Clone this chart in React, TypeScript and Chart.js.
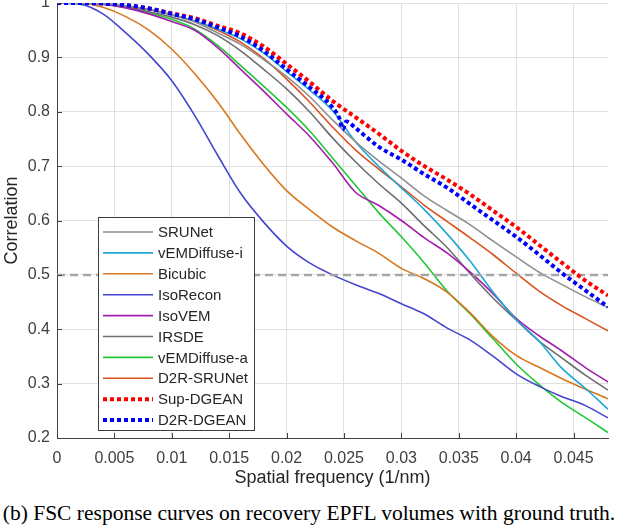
import React, { useEffect, useRef } from 'react';
import { Chart, registerables } from 'chart.js';

Chart.register(...registerables);

// ---------- data ----------
const freq = [0, 0.002, 0.004, 0.006, 0.008, 0.010, 0.012, 0.014, 0.016, 0.018, 0.020, 0.022, 0.024,
  0.026, 0.028, 0.030, 0.032, 0.034, 0.036, 0.038, 0.040, 0.042, 0.044, 0.046, 0.048];

const srunet = [1, 1, 0.999, 0.995, 0.988, 0.978, 0.965, 0.945, 0.924, 0.896, 0.865, 0.828, 0.785,
  0.745, 0.710, 0.678, 0.645, 0.618, 0.592, 0.562, 0.533, 0.505, 0.482, 0.460, 0.440];
const vemDiffuseI = [1, 1, 0.999, 0.995, 0.988, 0.978, 0.967, 0.952, 0.934, 0.908, 0.874, 0.840, 0.802,
  0.745, 0.700, 0.660, 0.620, 0.575, 0.525, 0.468, 0.418, 0.378, 0.328, 0.292, 0.253];
const bicubic = [1, 1, 0.992, 0.975, 0.950, 0.915, 0.870, 0.818, 0.758, 0.703, 0.655, 0.620, 0.588,
  0.563, 0.540, 0.512, 0.493, 0.468, 0.430, 0.386, 0.352, 0.330, 0.309, 0.290, 0.272];
const isoRecon = [1, 0.998, 0.980, 0.945, 0.905, 0.857, 0.793, 0.720, 0.650, 0.597, 0.553, 0.522, 0.500,
  0.482, 0.466, 0.447, 0.428, 0.402, 0.380, 0.350, 0.318, 0.295, 0.276, 0.260, 0.237];
const isoVEM = [1, 1, 0.998, 0.991, 0.980, 0.966, 0.950, 0.918, 0.878, 0.838, 0.796, 0.755, 0.706,
  0.652, 0.628, 0.600, 0.568, 0.540, 0.505, 0.465, 0.420, 0.388, 0.360, 0.330, 0.303];
const irsde = [1, 1, 0.998, 0.993, 0.984, 0.974, 0.960, 0.940, 0.912, 0.878, 0.842, 0.800, 0.752,
  0.708, 0.668, 0.632, 0.590, 0.550, 0.502, 0.457, 0.417, 0.378, 0.347, 0.316, 0.288];
const vemDiffuseA = [1, 1, 0.998, 0.992, 0.982, 0.970, 0.952, 0.922, 0.885, 0.847, 0.808, 0.765, 0.715,
  0.665, 0.615, 0.570, 0.522, 0.470, 0.428, 0.382, 0.336, 0.298, 0.265, 0.238, 0.210];
const d2rSrunet = [1, 1, 0.999, 0.995, 0.988, 0.979, 0.967, 0.950, 0.928, 0.898, 0.860, 0.818, 0.772,
  0.730, 0.695, 0.662, 0.628, 0.598, 0.568, 0.537, 0.503, 0.470, 0.443, 0.420, 0.397];
const supDgean = [1, 1, 0.999, 0.996, 0.990, 0.981, 0.972, 0.958, 0.944, 0.920, 0.888, 0.855, 0.820,
  0.790, 0.760, 0.728, 0.700, 0.675, 0.648, 0.618, 0.588, 0.555, 0.522, 0.490, 0.462];

const d2rDgeanFreq = [0, 0.002, 0.004, 0.006, 0.008, 0.010, 0.012, 0.014, 0.016, 0.018, 0.020, 0.022, 0.024,
  0.0246, 0.0249, 0.0252, 0.026, 0.028, 0.030, 0.032, 0.034, 0.036, 0.038, 0.040, 0.042, 0.044, 0.046, 0.048];
const d2rDgean = [1, 1, 0.999, 0.996, 0.990, 0.980, 0.970, 0.955, 0.938, 0.912, 0.878, 0.845, 0.808,
  0.788, 0.768, 0.782, 0.770, 0.736, 0.712, 0.685, 0.660, 0.630, 0.600, 0.570, 0.537, 0.503, 0.472, 0.441];

const thresholdLevel = 0.5;
const xMin = 0;
const xMax = 0.048;
const yMin = 0.2;
const yMax = 1;

const xTickValues = [0, 0.005, 0.01, 0.015, 0.02, 0.025, 0.03, 0.035, 0.04, 0.045];
const xTickLabels = ['0', '0.005', '0.01', '0.015', '0.02', '0.025', '0.03', '0.035', '0.04', '0.045'];
const yTickValues = [0.2, 0.3, 0.4, 0.5, 0.6, 0.7, 0.8, 0.9, 1];
const yTickLabels = ['0.2', '0.3', '0.4', '0.5', '0.6', '0.7', '0.8', '0.9', '1'];

const SANS = '"Liberation Sans", Arial, Helvetica, sans-serif';

const toPoints = (xs: number[], ys: number[]) => ys.map((y, i) => ({ x: xs[i], y }));

type Series = { label: string; xs: number[]; ys: number[]; color: string; width: number; dash?: number[]; order: number };

const series: Series[] = [
  { label: 'SRUNet', xs: freq, ys: srunet, color: '#8f8f8f', width: 1.6, order: 3 },
  { label: 'vEMDiffuse-i', xs: freq, ys: vemDiffuseI, color: '#1fa6d6', width: 1.6, order: 3 },
  { label: 'Bicubic', xs: freq, ys: bicubic, color: '#d8781e', width: 1.6, order: 3 },
  { label: 'IsoRecon', xs: freq, ys: isoRecon, color: '#4545cf', width: 1.6, order: 3 },
  { label: 'IsoVEM', xs: freq, ys: isoVEM, color: '#a21fae', width: 1.6, order: 3 },
  { label: 'IRSDE', xs: freq, ys: irsde, color: '#6e6e6e', width: 1.6, order: 3 },
  { label: 'vEMDiffuse-a', xs: freq, ys: vemDiffuseA, color: '#22c737', width: 1.6, order: 3 },
  { label: 'D2R-SRUNet', xs: freq, ys: d2rSrunet, color: '#d9531f', width: 1.6, order: 3 },
  { label: 'Sup-DGEAN', xs: freq, ys: supDgean, color: '#ff0000', width: 4, dash: [4, 3], order: 1 },
  { label: 'D2R-DGEAN', xs: d2rDgeanFreq, ys: d2rDgean, color: '#0000ff', width: 4, dash: [4, 3], order: 0 },
];

const insideTicksPlugin = {
  id: 'insideTicks',
  afterDraw(chart: any) {
    const { ctx, chartArea, scales } = chart;
    ctx.save();
    ctx.strokeStyle = '#404040';
    ctx.lineWidth = 1;
    ctx.beginPath();
    xTickValues.forEach((v) => {
      const px = Math.round(scales.x.getPixelForValue(v)) + 0.5;
      ctx.moveTo(px, chartArea.bottom);
      ctx.lineTo(px, chartArea.bottom - 5);
    });
    yTickValues.forEach((v) => {
      const py = Math.round(scales.y.getPixelForValue(v)) + 0.5;
      ctx.moveTo(chartArea.left, py);
      ctx.lineTo(chartArea.left + 5, py);
    });
    ctx.stroke();
    ctx.restore();
  },
};

const boxLegendPlugin = {
  id: 'boxLegend',
  afterDraw(chart: any) {
    const { ctx, chartArea } = chart;
    const left = chartArea.left + 41;
    const top = chartArea.top + 214;
    const w = 156;
    const h = 213;
    ctx.save();
    ctx.fillStyle = '#ffffff';
    ctx.fillRect(left, top, w, h);
    ctx.strokeStyle = '#3c3c3c';
    ctx.lineWidth = 1;
    ctx.strokeRect(left + 0.5, top + 0.5, w, h);
    const items = chart.data.datasets.filter((d: any) => d.label);
    items.forEach((d: any, i: number) => {
      const y = top + 15 + i * 20.9;
      ctx.beginPath();
      ctx.setLineDash(d.borderDash || []);
      ctx.strokeStyle = d.borderColor;
      ctx.lineWidth = d.borderWidth;
      ctx.moveTo(left + 5, y);
      ctx.lineTo(left + 55, y);
      ctx.stroke();
      ctx.setLineDash([]);
      ctx.fillStyle = '#262626';
      ctx.font = '15px ' + SANS;
      ctx.textAlign = 'left';
      ctx.textBaseline = 'middle';
      ctx.fillText(d.label, left + 60, y + 1);
    });
    ctx.restore();
  },
};

export default function App() {
  const ref = useRef<HTMLCanvasElement>(null);

  useEffect(() => {
    const datasets: any[] = series.map((s) => ({
      label: s.label,
      data: toPoints(s.xs, s.ys),
      borderColor: s.color,
      backgroundColor: s.color,
      borderWidth: s.width,
      borderDash: s.dash || [],
      borderCapStyle: 'butt',
      pointRadius: 0,
      cubicInterpolationMode: 'monotone',
      fill: false,
      order: s.order,
    }));
    datasets.push({
      label: '',
      data: [{ x: xMin, y: thresholdLevel }, { x: xMax, y: thresholdLevel }],
      borderColor: '#a6a6a6',
      borderWidth: 2.5,
      borderDash: [8, 5],
      pointRadius: 0,
      fill: false,
      order: 2,
    });

    const chart = new Chart(ref.current as HTMLCanvasElement, {
      type: 'line',
      data: { datasets },
      plugins: [insideTicksPlugin, boxLegendPlugin],
      options: {
        animation: false,
        responsive: false,
        maintainAspectRatio: false,
        layout: { padding: { top: 3, right: 10, left: 0, bottom: 0 } },
        plugins: { legend: { display: false }, tooltip: { enabled: false } },
        scales: {
          x: {
            type: 'linear',
            min: xMin,
            max: xMax,
            afterBuildTicks: (s: any) => { s.ticks = xTickValues.map((v) => ({ value: v })); },
            afterFit: (s: any) => { s.height = 57; s.paddingLeft = 0; s.paddingRight = 0; },
            grid: { color: '#e0e0e0', lineWidth: 1, drawTicks: false },
            border: { display: true, color: '#404040', width: 1 },
            ticks: {
              padding: 11,
              maxRotation: 0,
              autoSkip: false,
              color: '#404040',
              font: { family: SANS, size: 16 },
              callback: (_v: any, i: number) => xTickLabels[i],
            },
            title: {
              display: true,
              text: 'Spatial frequency (1/nm)',
              color: '#262626',
              font: { family: SANS, size: 18 },
              padding: { top: 0, bottom: 6 },
            },
          },
          y: {
            type: 'linear',
            min: yMin,
            max: yMax,
            afterBuildTicks: (s: any) => { s.ticks = yTickValues.map((v) => ({ value: v })); },
            afterFit: (s: any) => { s.width = 57; s.paddingTop = 0; s.paddingBottom = 0; },
            grid: { color: '#e0e0e0', lineWidth: 1, drawTicks: false },
            border: { display: true, color: '#404040', width: 1 },
            ticks: {
              padding: 7,
              autoSkip: false,
              color: '#404040',
              font: { family: SANS, size: 16 },
              callback: (_v: any, i: number) => yTickLabels[i],
            },
            title: {
              display: true,
              text: 'Correlation',
              color: '#262626',
              font: { family: SANS, size: 18 },
              padding: { top: 1, bottom: 0 },
            },
          },
        },
      },
    } as any);
    return () => chart.destroy();
  }, []);

  return (
    <div style={{ position: 'absolute', left: 0, top: 0, width: 618, height: 528, background: '#ffffff' }}>
      <canvas ref={ref} width={618} height={495} style={{ display: 'block', width: 618, height: 495 }} />
      <div
        style={{
          position: 'absolute',
          left: 0,
          top: 501,
          width: 618,
          textAlign: 'center',
          fontFamily: '"Liberation Serif", "Times New Roman", serif',
          fontSize: 21.5,
          lineHeight: '24px',
          color: '#000000',
          whiteSpace: 'nowrap',
        }}
      >
        (b) FSC response curves on recovery EPFL volumes with ground truth.
      </div>
    </div>
  );
}
